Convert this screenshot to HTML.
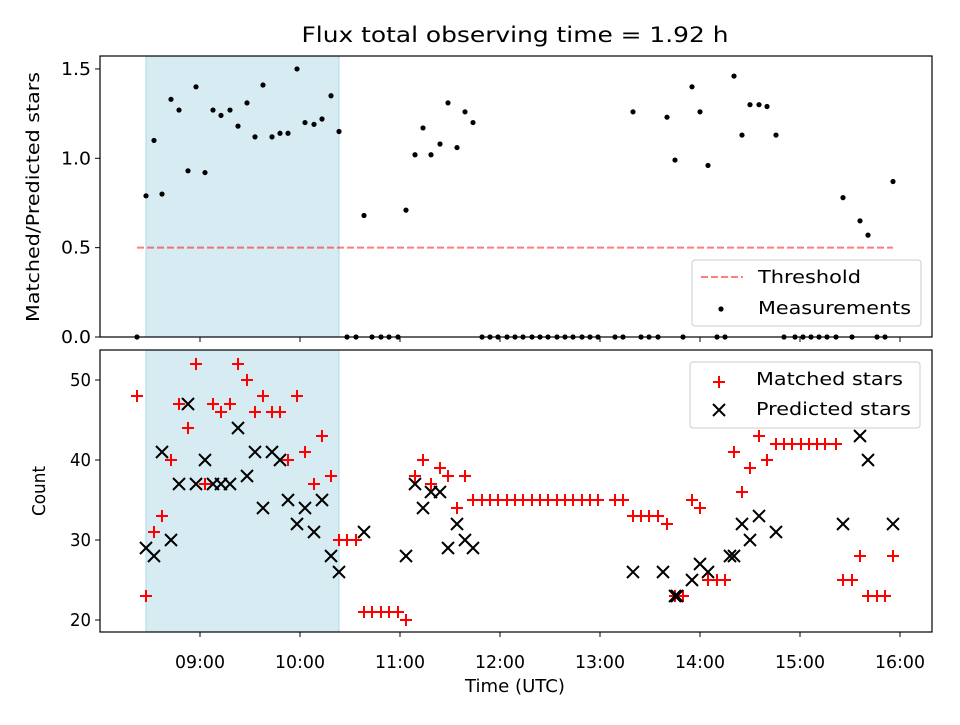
<!DOCTYPE html>
<html><head><meta charset="utf-8"><style>
body{margin:0;background:#fff}
svg text{font-family:"DejaVu Sans","Liberation Sans",sans-serif;fill:#000}
</style></head><body>
<svg id="c" width="960" height="720" xmlns="http://www.w3.org/2000/svg"></svg>
<script>
// Data (times in hours UTC)
const ratioTimes=[8.37,8.46,8.54,8.62,8.71,8.79,8.88,8.96,9.05,9.13,9.21,9.30,9.38,9.47,9.55,9.63,9.72,9.80,9.88,9.97,10.05,10.14,10.22,10.31,10.39,10.47,10.56,10.64,10.72,10.81,10.89,10.98,11.06,11.15,11.23,11.31,11.40,11.48,11.57,11.65,11.73,
11.82,11.90,11.98,12.07,12.15,12.23,12.32,12.40,12.48,12.57,12.65,12.73,12.82,12.90,12.98,13.15,13.23,13.33,13.41,13.49,13.58,13.67,13.75,13.83,13.92,14.00,14.08,14.17,14.25,14.34,14.42,14.50,14.59,14.67,14.76,14.84,14.95,15.03,15.11,15.19,15.27,15.36,15.43,15.52,15.60,15.68,15.77,15.85,15.93];
const ratioValues=[0,0.79,1.10,0.80,1.33,1.27,0.93,1.40,0.92,1.27,1.24,1.27,1.18,1.31,1.12,1.41,1.12,1.14,1.14,1.50,1.20,1.19,1.22,1.35,1.15,0,0,0.68,0,0,0,0,0.71,1.02,1.17,1.02,1.08,1.31,1.06,1.26,1.20,
0,0,0,0,0,0,0,0,0,0,0,0,0,0,0,0,0,1.26,0,0,0,1.23,0.99,0,1.40,1.26,0.96,0,0,1.46,1.13,1.30,1.30,1.29,1.13,0,0,0,0,0,0,0,0.78,0,0.65,0.57,0,0,0.87];
const matchedTimes=[8.37,8.46,8.54,8.62,8.71,8.79,8.88,8.96,9.05,9.13,9.21,9.30,9.38,9.47,9.55,9.63,9.72,9.80,9.88,9.97,10.05,10.14,10.22,10.31,10.39,10.47,10.56,10.64,10.72,10.81,10.89,10.98,11.06,11.15,11.23,11.31,11.40,11.48,11.57,11.65,11.73,
11.82,11.90,11.98,12.07,12.15,12.23,12.32,12.40,12.48,12.57,12.65,12.73,12.82,12.90,12.98,13.15,13.23,13.33,13.41,13.49,13.58,13.67,13.75,13.83,13.92,14.00,14.08,14.17,14.25,14.34,14.42,14.50,14.59,14.67,14.76,14.84,14.92,15.01,15.09,15.17,15.25,15.36,15.43,15.52,15.60,15.68,15.77,15.85,15.93];
const matchedValues=[48,23,31,33,40,47,44,52,37,47,46,47,52,50,46,48,46,46,40,48,41,37,43,38,30,30,30,21,21,21,21,21,20,38,40,37,39,38,34,38,35,
35,35,35,35,35,35,35,35,35,35,35,35,35,35,35,35,35,33,33,33,33,32,23,23,35,34,25,25,25,41,36,39,43,40,42,42,42,42,42,42,42,42,25,25,28,23,23,23,28];
const predTimes=[8.46,8.54,8.62,8.71,8.79,8.88,8.96,9.05,9.13,9.21,9.30,9.38,9.47,9.55,9.63,9.72,9.80,9.88,9.97,10.05,10.14,10.22,10.31,10.39,10.64,11.06,11.15,11.23,11.31,11.40,11.48,11.57,11.65,11.73,13.33,13.63,13.75,13.77,13.92,14.00,14.08,14.30,14.34,14.42,14.50,14.59,14.76,15.43,15.60,15.68,15.93];
const predValues=[29,28,41,30,37,47,37,40,37,37,37,44,38,41,34,41,40,35,32,34,31,35,28,26,31,28,37,34,36,36,29,32,30,29,26,26,23,23,25,27,26,28,28,32,30,33,31,32,43,40,32];
const xTicks=[9,10,11,12,13,14,15,16];
const xTickLabels=["09:00","10:00","11:00","12:00","13:00","14:00","15:00","16:00"];
const topTicks=[0,0.5,1.0,1.5];
const botTicks=[20,30,40,50];
const threshold=0.5, shadeStart=8.46, shadeEnd=10.39, thrStart=8.37, thrEnd=15.93;

const NS="http://www.w3.org/2000/svg";
const svg=document.getElementById('c');
function mk(tag,attrs,parent){const e=document.createElementNS(NS,tag);for(const k in attrs)e.setAttribute(k,attrs[k]);(parent||svg).appendChild(e);return e;}
const L=100,R=932;
const xs=h=>L+(h-8)*100;
const yTop=v=>337-v*178.7;
const yBot=v=>620-(v-20)*8;
const T={y0:56,y1:337}, B={y0:350,y1:632};
const FS=18;

let t=mk('text',{x:515,y:42,'text-anchor':'middle','font-size':'21.5',textLength:427,lengthAdjust:'spacingAndGlyphs'});t.textContent='Flux total observing time = 1.92 h';


function panel(P,name){
  let s=mk('rect',{x:xs(shadeStart),y:P.y0,width:xs(shadeEnd)-xs(shadeStart),height:P.y1-P.y0,fill:'#add8e6','fill-opacity':0.5,stroke:'#add8e6','stroke-width':1});
  
}
panel(T,'top');panel(B,'bottom');

let th=mk('line',{x1:xs(thrStart),x2:xs(thrEnd),y1:yTop(threshold),y2:yTop(threshold),stroke:'#ff0000','stroke-opacity':0.5,'stroke-width':2,'stroke-dasharray':'7,3'});


ratioTimes.forEach((h,i)=>{const c=mk('circle',{cx:xs(h),cy:yTop(ratioValues[i]),r:2.6,fill:'#000'});
});

matchedTimes.forEach((h,i)=>{const x=xs(h),y=yBot(matchedValues[i]);
const p=mk('path',{d:`M${x-6},${y}H${x+6}M${x},${y-6}V${y+6}`,stroke:'#ff0000','stroke-width':2});
});
predTimes.forEach((h,i)=>{const x=xs(h),y=yBot(predValues[i]);
const p=mk('path',{d:`M${x-6},${y-6}L${x+6},${y+6}M${x-6},${y+6}L${x+6},${y-6}`,stroke:'#000','stroke-width':2});
});

[[T,'top'],[B,'bottom']].forEach(([P,n])=>{
  const f=mk('rect',{x:L,y:P.y0,width:R-L,height:P.y1-P.y0,fill:'none',stroke:'#000','stroke-width':1.2});
  
  xTicks.forEach(h=>{mk('line',{x1:xs(h),x2:xs(h),y1:P.y1,y2:P.y1+5,stroke:'#000'});});
});
xTicks.forEach((h,i)=>{const tx=mk('text',{x:xs(h),y:668,'text-anchor':'middle','font-size':FS,textLength:50,lengthAdjust:'spacingAndGlyphs'});tx.textContent=xTickLabels[i];
});
topTicks.forEach(v=>{const y=yTop(v);mk('line',{x1:L-5,x2:L,y1:y,y2:y,stroke:'#000'});
const tx=mk('text',{x:L-9,y:y+6,'text-anchor':'end','font-size':FS,textLength:30,lengthAdjust:'spacingAndGlyphs'});tx.textContent=v.toFixed(1);
});
botTicks.forEach(v=>{const y=yBot(v);mk('line',{x1:L-5,x2:L,y1:y,y2:y,stroke:'#000'});
const tx=mk('text',{x:L-9,y:y+6,'text-anchor':'end','font-size':FS,textLength:21,lengthAdjust:'spacingAndGlyphs'});tx.textContent=v;
});

let xl=mk('text',{x:515,y:692,'text-anchor':'middle','font-size':FS,textLength:100,lengthAdjust:'spacingAndGlyphs'});xl.textContent='Time (UTC)';

let yl1=mk('text',{x:0,y:0,'text-anchor':'middle','font-size':FS,textLength:250,lengthAdjust:'spacingAndGlyphs',transform:'translate(39,197) rotate(-90)'});yl1.textContent='Matched/Predicted stars';

let yl2=mk('text',{x:0,y:0,'text-anchor':'middle','font-size':FS,textLength:50,lengthAdjust:'spacingAndGlyphs',transform:'translate(45,491) rotate(-90)'});yl2.textContent='Count';


let lg1=mk('g',{});
mk('rect',{x:692,y:260,width:229,height:66,rx:3,fill:'#fff','fill-opacity':0.8,stroke:'#ccc'},lg1);
mk('line',{x1:701,x2:743,y1:277,y2:277,stroke:'#ff0000','stroke-opacity':0.5,'stroke-width':2,'stroke-dasharray':'7,3'},lg1);
let a=mk('text',{x:758,y:283,'font-size':FS,textLength:103,lengthAdjust:'spacingAndGlyphs'},lg1);a.textContent='Threshold';
mk('circle',{cx:721,cy:309,r:2.6,fill:'#000'},lg1);
a=mk('text',{x:758,y:314,'font-size':FS,textLength:153,lengthAdjust:'spacingAndGlyphs'},lg1);a.textContent='Measurements';

let lg2=mk('g',{});
mk('rect',{x:690,y:362,width:230,height:66,rx:3,fill:'#fff','fill-opacity':0.8,stroke:'#ccc'},lg2);
mk('path',{d:'M713,382H725M719,376V388',stroke:'#ff0000','stroke-width':2},lg2);
a=mk('text',{x:756,y:385,'font-size':FS,textLength:147,lengthAdjust:'spacingAndGlyphs'},lg2);a.textContent='Matched stars';
mk('path',{d:'M713,404L725,416M713,416L725,404',stroke:'#000','stroke-width':2},lg2);
a=mk('text',{x:756,y:415,'font-size':FS,textLength:155,lengthAdjust:'spacingAndGlyphs'},lg2);a.textContent='Predicted stars';
</script>
</body></html>
